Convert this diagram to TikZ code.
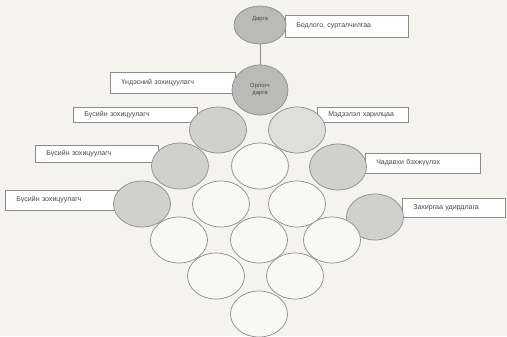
\documentclass[tikz,border=0pt]{standalone}
\usepackage{fontspec}
\setmainfont{Liberation Sans}
\usetikzlibrary{shapes}

\definecolor{paper}{RGB}{244,243,240}
\definecolor{rim}{RGB}{140,140,138}
\definecolor{headfill}{RGB}{186,186,184}
\definecolor{zonefill}{RGB}{208,208,206}
\definecolor{infofill}{RGB}{222,222,220}
\definecolor{emptyfill}{RGB}{248,248,246}
\definecolor{ink}{RGB}{70,70,70}

\begin{document}
\begin{tikzpicture}[x=0.03cm,y=-0.03cm]

  \tikzstyle{cell}=[ellipse,draw=rim,line width=0.6pt,fill=emptyfill,
                    inner sep=0pt,minimum width=1.71cm,minimum height=1.38cm,
                    font=\fontsize{5}{6}\selectfont,text=ink,align=center]
  \tikzstyle{head cell}=[cell,fill=headfill]
  \tikzstyle{zone cell}=[cell,fill=zonefill]
  \tikzstyle{info cell}=[cell,fill=infofill]
  \tikzstyle{lbl}=[rectangle,draw=rim,line width=0.5pt,fill=white,anchor=west,
                   inner xsep=0.33cm,inner ysep=0pt,align=left,text=ink,
                   font=\fontsize{6}{7}\selectfont]

  \fill [paper] (0,0) rectangle (507,336);
  \useasboundingbox (0,0) rectangle (507,336);

  % labels behind the circles
  \node [lbl,text width=3.03cm,minimum height=0.66cm] (bodl) at (285,26)    {Бодлого, сурталчилгаа};
  \node [lbl,text width=3.09cm,minimum height=0.63cm] (unds) at (110,82.5)  {Үндэсний зохицуулагч};
  \node [lbl,text width=3.06cm,minimum height=0.45cm] (bus1) at (73,115)    {Бүсийн зохицуулагч};
  \node [lbl,text width=2.07cm,minimum height=0.45cm] (medl) at (317,114.5) {Мэдээлэл харилцаа};
  \node [lbl,text width=3.03cm,minimum height=0.51cm] (bus2) at (35,153.5)  {Бүсийн зохицуулагч};
  \node [lbl,text width=2.79cm,minimum height=0.60cm] (chad) at (365,163)   {Чадавхи бэхжүүлэх};
  \node [lbl,text width=3.03cm,minimum height=0.60cm] (bus3) at (5,200)     {Бүсийн зохицуулагч};
  \node [lbl,text width=2.43cm,minimum height=0.57cm] (zahi) at (402,207.5) {Захиргаа удирдлага};

  % head and deputy
  \node [head cell,minimum width=1.56cm,minimum height=1.14cm] (dar) at (260,25) {Дарга\\[5pt]};
  \node [head cell,minimum width=1.68cm,minimum height=1.5cm]  (orl) at (260,90) {Орлогч\\дарга};
  \draw [rim,line width=0.6pt] (dar) -- (orl);

  % the lattice
  \node [zone cell] (z1) at (218,130) {};
  \node [info cell] (i1) at (297,130) {};

  \node [zone cell] (z2) at (180,166) {};
  \node [cell]      (c3) at (260,166) {};
  \node [zone cell] (i2) at (338,167) {};

  \node [zone cell] (z3) at (142,204) {};
  \node [cell]      (c4a) at (221,204) {};
  \node [cell]      (c4b) at (297,204) {};
  \node [zone cell] (i3) at (375,217) {};

  \node [cell] (c5a) at (179,240) {};
  \node [cell] (c5b) at (259,240) {};
  \node [cell] (c5c) at (332,240) {};

  \node [cell] (c6a) at (216,276) {};
  \node [cell] (c6b) at (295,276) {};

  \node [cell] (c7) at (259,314) {};

\end{tikzpicture}
\end{document}
